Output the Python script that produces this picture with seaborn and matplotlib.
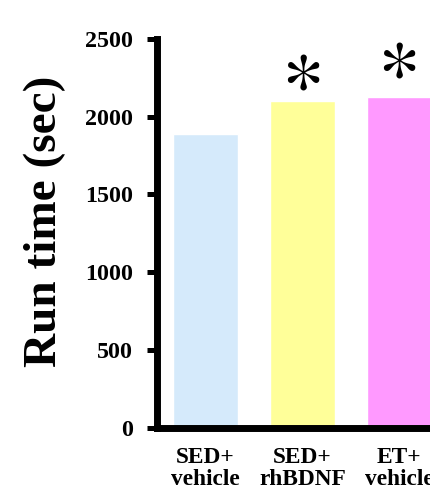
import matplotlib
matplotlib.use("Agg")
import matplotlib.pyplot as plt
import seaborn as sns
import pandas as pd

categories = ["SED+\nvehicle", "SED+\nrhBDNF", "ET+\nvehicle"]
run_time = [1888, 2100, 2126]
colors = ["#D5EAFB", "#FFFF99", "#FF99FF"]
star_cats = ["SED+\nrhBDNF", "ET+\nvehicle"]
star_y = [2150, 2228]
yticks = [0, 500, 1000, 1500, 2000, 2500]

sns.set_theme(style="ticks")
plt.rcParams["font.family"] = ["Liberation Serif", "DejaVu Serif"]
plt.rcParams["font.weight"] = "bold"
plt.rcParams["text.color"] = "black"
plt.rcParams["axes.labelcolor"] = "black"
plt.rcParams["xtick.color"] = "black"
plt.rcParams["ytick.color"] = "black"

df = pd.DataFrame({"group": categories, "time": run_time})

fig = plt.figure(figsize=(4.31, 4.95), dpi=100)
ax = fig.add_axes([157 / 431, 67.5 / 495, 274 / 431, 388.5 / 495])

sns.barplot(data=df, x="group", y="time", hue="group", palette=colors,
            order=categories, hue_order=categories, width=0.67,
            legend=False, ax=ax, errorbar=None, saturation=1)

for c, y in zip(star_cats, star_y):
    xi = categories.index(c)
    ax.text(xi, y, "*", ha="center", va="center", fontsize=62,
            fontweight="normal", family=["STIXGeneral", "Liberation Serif"],
            color="black")

ax.set_ylim(0, 2500)
ax.set_xlim(-0.503, 2.33)
ax.set_yticks(yticks)
ax.set_yticklabels([str(t) for t in yticks], fontsize=17.3, fontweight="bold")
ax.tick_params(axis="y", length=7.2, width=3.6, pad=10, colors="black")
ax.tick_params(axis="x", length=0, pad=14, labelsize=16.8, colors="black")
for lab in ax.get_xticklabels():
    lab.set_fontweight("bold")
    lab.set_linespacing(1.05)

ax.set_xlabel("")
ax.set_ylabel("Run time (sec)", fontsize=34, fontweight="bold", va="center",
              color="black")
ax.yaxis.set_label_coords(-0.41, 0.53)

for s in ["top", "right"]:
    ax.spines[s].set_visible(False)
for s in ["left", "bottom"]:
    ax.spines[s].set_linewidth(5)
    ax.spines[s].set_color("black")
    ax.spines[s].set_capstyle("projecting")

fig.savefig("out.png", dpi=100)
